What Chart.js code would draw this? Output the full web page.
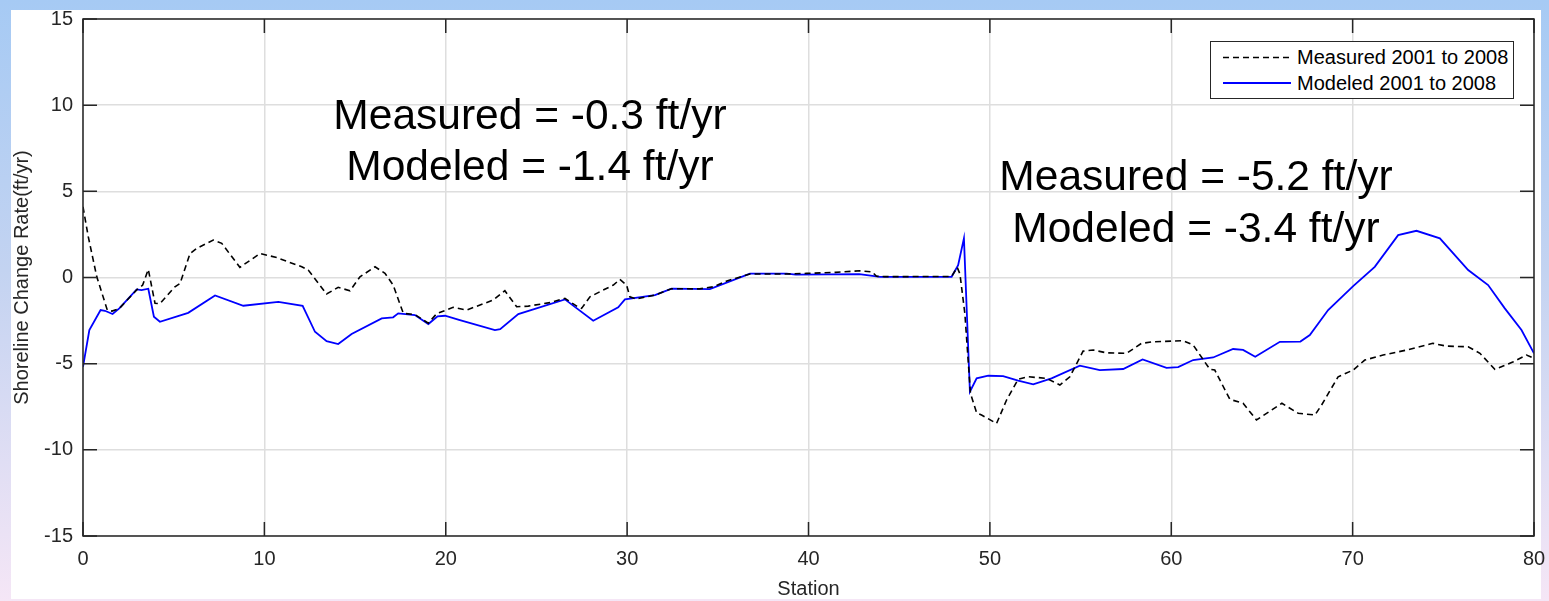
<!DOCTYPE html>
<html>
<head>
<meta charset="utf-8">
<script src="https://cdn.jsdelivr.net/npm/chart.js@4.4.1/dist/chart.umd.min.js"></script>
<style>
  html, body { margin: 0; padding: 0; }
  body {
    width: 1549px; height: 601px; overflow: hidden; position: relative;
    background: linear-gradient(to bottom, #a6caf4 0%, #c3d3f1 45%, #f5e6f6 100%);
    font-family: "Liberation Sans", Arial, sans-serif;
  }
  .panel { position: absolute; left: 11px; top: 10px; width: 1530px; height: 589px; background: #fff; }
  #chart { position: absolute; left: 0; top: 0; }
  .note { position: absolute; font-size: 42.5px; line-height: 42.5px; color: #000; white-space: nowrap; transform: translateX(-50%); }
  .legend { position: absolute; left: 1210px; top: 41px; width: 302px; height: 56px; border: 1px solid #262626; background: #fff; }
  .legend span { position: absolute; left: 86px; font-size: 20px; line-height: 20px; color: #000; white-space: nowrap; }
  .legend svg { position: absolute; left: 0; top: 0; }
</style>
</head>
<body>
<div class="panel"></div>
<canvas id="chart" width="1549" height="601"></canvas>

<div class="note" style="left:530px; top:94px;">Measured = -0.3 ft/yr</div>
<div class="note" style="left:530px; top:145px;">Modeled = -1.4 ft/yr</div>
<div class="note" style="left:1196px; top:155px;">Measured = -5.2 ft/yr</div>
<div class="note" style="left:1196px; top:207px;">Modeled = -3.4 ft/yr</div>

<div class="legend">
  <svg width="302" height="56">
    <line x1="12" y1="15.5" x2="80" y2="15.5" stroke="#000" stroke-width="1.5" stroke-dasharray="6,4"></line>
    <line x1="12" y1="41" x2="80" y2="41" stroke="#0000ff" stroke-width="1.8"></line>
  </svg>
  <span style="top:5px;">Measured 2001 to 2008</span>
  <span style="top:31px;">Modeled 2001 to 2008</span>
</div>

<script>
// station values and rates
const measuredStation = [0, 0.29, 0.76, 1.34, 1.6, 2.0, 2.96, 3.29, 3.6, 3.97, 4.24, 5.07, 5.35, 5.9, 6.27, 7.18, 7.65, 8.65, 9.76, 10.68,
  12.06, 12.42, 13.43, 14.07, 14.72, 15.27, 16.1, 16.65, 17.1, 17.66, 18.3, 19.04, 19.5, 20.41, 21.15, 22.62, 23.26, 23.91, 24.55, 25.74,
  26.57, 27.22, 27.49, 27.95, 28.68, 29.24, 29.6, 29.97, 30.15, 30.5, 31.53, 32.45, 34.0, 34.75, 35.5, 36.77, 38.61, 39.9, 41.5, 42.83,
  43.5, 43.75, 44.2, 47.89, 48.2, 48.35, 48.62, 48.93, 49.27, 49.54, 50.37, 50.92, 51.56, 52.11, 53.12, 53.86, 54.41, 55.14, 55.7, 56.43,
  57.54, 58.36, 59.0, 60.66, 61.21, 62.13, 62.4, 63.23, 63.96, 64.7, 66.1, 67.0, 67.92, 68.29, 69.2, 70.03, 70.67, 71.68, 72.97, 74.42,
  75.16, 76.37, 77.02, 77.84, 78.86, 79.59, 80];
const measuredRate = [4.1, 2.37, 0.04, -1.89, -1.95, -1.8, -0.72, -0.44, 0.47, -1.5, -1.52, -0.54, -0.35, 1.39, 1.69, 2.17, 1.98, 0.59, 1.39, 1.16,
  0.62, 0.43, -0.96, -0.57, -0.77, 0.04, 0.62, 0.24, -0.44, -2.08, -2.15, -2.65, -2.1, -1.73, -1.89, -1.31, -0.77, -1.7, -1.66, -1.46,
  -1.21, -1.66, -1.79, -1.12, -0.73, -0.44, -0.11, -0.44, -1.12, -1.25, -1.02, -0.65, -0.66, -0.54, -0.2, 0.2, 0.2, 0.24, 0.3, 0.39,
  0.33, 0.07, 0.05, 0.06, 0.59, 0.2, -2.08, -6.72, -7.85, -7.98, -8.47, -7.11, -5.91, -5.76, -5.85, -6.24, -5.76, -4.27, -4.21, -4.37,
  -4.4, -3.82, -3.73, -3.67, -3.92, -5.33, -5.37, -7.07, -7.3, -8.27, -7.3, -7.88, -7.98, -7.4, -5.76, -5.37, -4.79, -4.5, -4.21, -3.82,
  -3.98, -4.02, -4.4, -5.33, -4.89, -4.5, -4.69];

const modeledStation = [0, 0.35, 0.97, 1.21, 1.63, 2.0, 2.96, 3.23, 3.6, 3.91, 4.24, 5.8, 7.28, 8.84, 10.77, 12.11, 12.79, 13.43, 14.07, 14.81,
  16.47, 17.1, 17.38, 18.3, 19.04, 19.55, 19.96, 20.78, 22.71, 23.0, 24.0, 26.57, 28.13, 29.51, 29.88, 31.53, 32.45, 34.56, 36.77, 38.8,
  39.3, 42.8, 43.94, 47.89, 48.25, 48.57, 48.9, 49.27, 49.91, 50.73, 51.56, 52.39, 53.4, 54.96, 56.06, 57.35, 58.42, 59.74, 60.38, 61.21,
  62.31, 63.41, 63.96, 64.63, 65.99, 67.12, 67.64, 68.65, 70.03, 71.22, 72.51, 73.52, 74.81, 76.37, 77.47, 78.39, 79.31, 80];
const modeledRate = [-5.18, -3.05, -1.89, -1.93, -2.12, -1.79, -0.69, -0.73, -0.65, -2.28, -2.57, -2.05, -1.04, -1.64, -1.41, -1.64, -3.15, -3.69, -3.86, -3.28,
  -2.37, -2.31, -2.08, -2.18, -2.7, -2.25, -2.22, -2.47, -3.05, -3.0, -2.12, -1.27, -2.51, -1.73, -1.27, -1.02, -0.65, -0.67, 0.22, 0.22,
  0.17, 0.2, 0.04, 0.04, 0.72, 2.27, -6.63, -5.85, -5.7, -5.72, -5.99, -6.2, -5.85, -5.12, -5.37, -5.31, -4.75, -5.24, -5.2, -4.79,
  -4.64, -4.15, -4.2, -4.6, -3.73, -3.72, -3.34, -1.89, -0.5, 0.62, 2.46, 2.71, 2.27, 0.43, -0.44, -1.79, -3.05, -4.4];

const xTicks = [0, 10, 20, 30, 40, 50, 60, 70, 80];
const yTicks = [-15, -10, -5, 0, 5, 10, 15];

const axisColor = "#262626";

function toPoints(xs, ys) {
  return xs.map((x, i) => ({ x: x, y: ys[i] }));
}

// box around the plot and inward tick marks, MATLAB style
const boxPlugin = {
  id: "boxPlugin",
  afterDatasetsDraw(chart) {
    const ctx = chart.ctx;
    const a = chart.chartArea;
    const xs = chart.scales.x, ys = chart.scales.y;
    const len = 14;
    ctx.save();
    ctx.strokeStyle = axisColor;
    ctx.lineWidth = 1.5;
    ctx.strokeRect(a.left, a.top, a.right - a.left, a.bottom - a.top);
    ctx.beginPath();
    xTicks.forEach(v => {
      const px = xs.getPixelForValue(v);
      ctx.moveTo(px, a.bottom); ctx.lineTo(px, a.bottom - len);
      ctx.moveTo(px, a.top); ctx.lineTo(px, a.top + len);
    });
    yTicks.forEach(v => {
      const py = ys.getPixelForValue(v);
      ctx.moveTo(a.left, py); ctx.lineTo(a.left + len, py);
      ctx.moveTo(a.right, py); ctx.lineTo(a.right - len, py);
    });
    ctx.stroke();
    ctx.restore();
  }
};

const ctx = document.getElementById("chart").getContext("2d");
const myChart = new Chart(ctx, {
  type: "line",
  data: {
    datasets: [
      {
        label: "Measured 2001 to 2008",
        data: toPoints(measuredStation, measuredRate),
        borderColor: "#000000",
        borderWidth: 1.6,
        borderDash: [6, 4],
        pointRadius: 0,
        tension: 0,
      },
      {
        label: "Modeled 2001 to 2008",
        data: toPoints(modeledStation, modeledRate),
        borderColor: "#0000ff",
        borderWidth: 1.8,
        pointRadius: 0,
        tension: 0,
      },
    ],
  },
  options: {
    responsive: false,
    animation: false,
    devicePixelRatio: 1,
    layout: { padding: { left: 0, top: 19, right: 15, bottom: 0 } },
    plugins: { legend: { display: false }, tooltip: { enabled: false } },
    scales: {
      x: {
        type: "linear",
        min: 0,
        max: 80,
        afterBuildTicks: s => { s.ticks = xTicks.map(v => ({ value: v })); },
        afterFit: s => { s.height = 65; s.paddingLeft = 0; s.paddingRight = 0; },
        grid: { color: "#dedede", lineWidth: 1.5, drawTicks: false },
        border: { display: false },
        ticks: { color: axisColor, padding: 11, font: { family: "Liberation Sans", size: 20 } },
        title: {
          display: true,
          text: "Station",
          color: axisColor,
          padding: { top: 0, bottom: 0 },
          font: { family: "Liberation Sans", size: 20 },
        },
      },
      y: {
        type: "linear",
        min: -15,
        max: 15,
        afterBuildTicks: s => { s.ticks = yTicks.map(v => ({ value: v })); },
        afterFit: s => { s.width = 83; s.paddingTop = 0; s.paddingBottom = 0; },
        grid: { color: "#dedede", lineWidth: 1.5, drawTicks: false },
        border: { display: false },
        ticks: { color: axisColor, padding: 10, font: { family: "Liberation Sans", size: 20 } },
        title: {
          display: true,
          text: "Shoreline Change Rate(ft/yr)",
          color: axisColor,
          padding: { top: 10, bottom: 0 },
          font: { family: "Liberation Sans", size: 20 },
        },
      },
    },
  },
  plugins: [boxPlugin],
});
</script>
</body>
</html>
